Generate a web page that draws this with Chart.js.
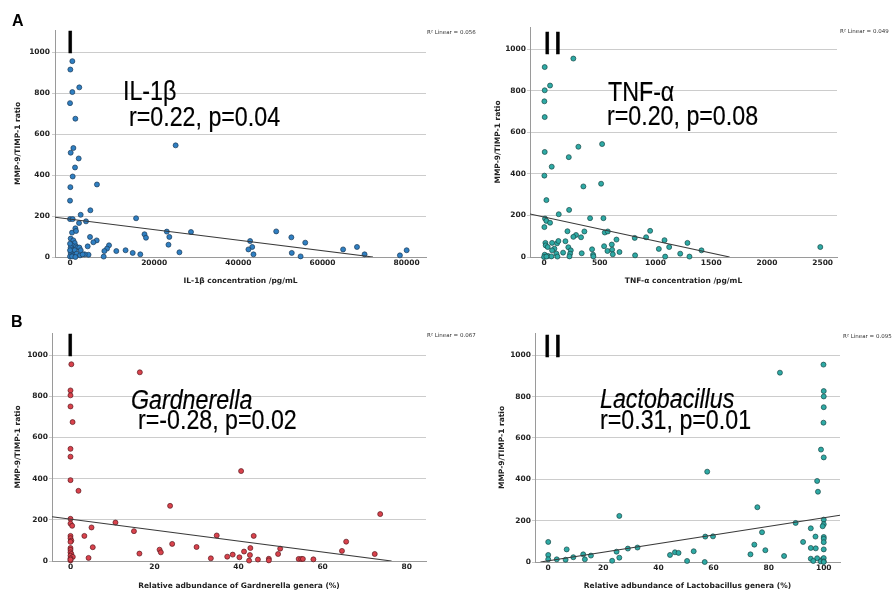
<!DOCTYPE html>
<html>
<head>
<meta charset="utf-8">
<script src="https://cdn.jsdelivr.net/npm/chart.js@4"></script>
<style>
  html, body { margin: 0; padding: 0; background: #fff; overflow: hidden; }
  body { width: 893px; height: 591px; position: relative; }
  canvas { position: absolute; }
  .lbl { position: absolute; font-family: "Liberation Sans", Arial, sans-serif; line-height: 1; white-space: nowrap; color: #000; }
  .big { font-size: 27px; transform: scaleX(0.86); transform-origin: 0 0; -webkit-text-stroke: 0.2px #000; }
  .roman { font-size: 31px; letter-spacing: 2px; -webkit-text-stroke: 0.6px #000; }
  .letter { font-size: 16px; font-weight: bold; }
  .r2 { font-family: "DejaVu Sans", sans-serif; font-size: 5.5px; color: #333; }
</style>
</head>
<body>
<canvas id="il1b" width="440" height="295" style="left:0;top:0"></canvas>
<canvas id="tnf" width="370" height="295" style="left:480px;top:0"></canvas>
<canvas id="gard" width="440" height="295" style="left:0;top:300px"></canvas>
<canvas id="lacto" width="369" height="295" style="left:484px;top:300px"></canvas>

<div class="lbl letter" style="left:12px;top:13px">A</div>
<div class="lbl letter" style="left:11px;top:314px">B</div>
<div class="lbl roman" style="left:66px;top:27px">I</div>
<div class="lbl roman" style="left:543px;top:28px">II</div>
<div class="lbl roman" style="left:66px;top:330px">I</div>
<div class="lbl roman" style="left:543px;top:331px">II</div>

<div class="lbl big" style="left:123px;top:78px">IL-1β</div>
<div class="lbl big" style="left:129px;top:104px">r=0.22, p=0.04</div>
<div class="lbl big" style="left:608px;top:79px">TNF-α</div>
<div class="lbl big" style="left:607px;top:103px">r=0.20, p=0.08</div>
<div class="lbl big" style="left:131px;top:387px;font-style:italic">Gardnerella</div>
<div class="lbl big" style="left:138px;top:407px">r=-0.28, p=0.02</div>
<div class="lbl big" style="left:600px;top:386px;font-style:italic">Lactobacillus</div>
<div class="lbl big" style="left:600px;top:407px">r=0.31, p=0.01</div>

<div class="lbl r2" style="left:427px;top:30px">R² Linear = 0.056</div>
<div class="lbl r2" style="left:840px;top:29px">R² Linear = 0.049</div>
<div class="lbl r2" style="left:427px;top:333px">R² Linear = 0.067</div>
<div class="lbl r2" style="left:843px;top:334px">R² Linear = 0.095</div>

<script>
// MMP-9/TIMP-1 ratio vs IL-1β (pg/mL)
const il1bX = [550, 80, 550, 2200, 0, 1270, 25100, 800, 160, 2060, 1190, 630, 6400, 80, 0, 4830, 2530, 15700, 0, 630,
  3800, 2140, 1270, 475, 1430, 49000, 28750, 23000, 17700, 18050, 23600, 52600, 4750, 6340, 5550, 42800, 55900, 23400, 4200, 9270,
  8800, 8160, 43300, 42400, 64900, 68200, 11000, 13200, 14900, 16700, 26000, 43600, 52700, 70000, 78400, 80000, 54800, 8000, 4400, 3500,
  160, 790, 1110, 475, 1425, 160, 1740, 475, 1110, 160, 790, 1580, 2380, 3010, 0, 475, 1270, 2220, 2540, 0, 0];
const il1bY = [956, 915, 805, 828, 751, 675, 545, 532, 509, 481, 437, 393, 354, 341, 275, 228, 206, 189, 185, 185,
  174, 166, 140, 119, 127, 125, 122, 124, 111, 94, 98, 96, 98, 81, 72, 78, 70, 60, 52, 57,
  41, 29, 49, 37, 37, 49, 29, 33, 20, 13, 23, 13, 20, 13, 8, 33, 3, 2, 11, 13,
  90, 81, 68, 57, 52, 46, 46, 33, 33, 20, 8, 16, 8, 13, 3, 3, 0, 46, 33, 65, 33];

// MMP-9/TIMP-1 ratio vs TNF-α (pg/mL)
const tnfX = [263, 6, 6, 54, 3, 6, 6, 521, 308, 222, 69, 3, 512, 353, 21, 225, 132, 413, 533, 9,
  21, 54, 3, 210, 362, 545, 572, 952, 287, 263, 332, 650, 814, 916, 1081, 1287, 72, 117, 192, 12,
  129, 15, 33, 218, 539, 608, 1123, 1413, 2479, 93, 72, 431, 240, 611, 1030, 569, 677, 171, 234, 338,
  111, 440, 617, 817, 1222, 6, 36, 66, 120, 443, 1087, 1305, 0, 228, 21];
const tnfY = [956, 915, 803, 826, 750, 674, 506, 544, 531, 481, 435, 392, 353, 340, 274, 227, 206, 187, 187, 185,
  174, 165, 144, 124, 123, 118, 123, 126, 106, 97, 95, 84, 92, 95, 81, 68, 68, 66, 76, 68,
  77, 56, 48, 47, 52, 60, 48, 32, 48, 40, 32, 37, 32, 35, 39, 29, 24, 21, 16, 18,
  16, 11, 13, 8, 16, 11, 5, 3, 2, 3, 2, 2, 0, 3, 2];

// MMP-9/TIMP-1 ratio vs Gardnerella relative abundance (%)
const gardX = [0.2, 16.5, 0, 0, 0, 0.5, 0, 0, 40.6, 0, 1.9, 23.7, 73.7, 0, 10.7, 0, 0.4, 5, 15.1, 3.3,
  34.8, 43.6, 0, 0, 0.2, 0, 65.6, 24.2, 5.3, 30, 42.8, 49.9, 0, 0, 21.2, 21.5, 41.3, 64.6, 0, 0.2,
  16.4, 42.7, 38.6, 49.4, 72.4, 37.3, 40.2, 0, 0.55, 4.3, 33.4, 47.2, 54.3, 54.9, 55.3, 44.6, 47.2, 57.8, 42.5, 0,
  0, 0];
const gardY = [956, 917, 829, 805, 751, 675, 545, 507, 437, 393, 341, 268, 228, 205, 187, 182, 171, 163, 145, 122,
  124, 122, 122, 111, 99, 93, 94, 83, 67, 68, 63, 60, 63, 54, 55, 42, 46, 49, 42, 34,
  36, 29, 31, 34, 34, 21, 18, 26, 20, 15, 13, 11, 10, 10, 10, 7, 3, 8, 2, 13,
  3, 7];

// MMP-9/TIMP-1 ratio vs Lactobacillus relative abundance (%)
const lactoX = [99.9, 84.1, 100, 100, 100, 99.9, 99, 100, 57.7, 97.6, 97.9, 75.9, 25.8, 100, 89.8, 100, 99.6, 95.3, 77.6, 57,
  59.8, 97, 100, 100, 100, 0, 92.5, 74.8, 97.1, 95.3, 100, 6.7, 28.9, 32.4, 78.8, 52.8, 24.8, 46, 47.3, 73.4,
  44.2, 0, 12.7, 15.5, 9.1, 25.8, 85.6, 97.6, 95.3, 99.6, 100, 0, 3.1, 6.3, 13.3, 23.2, 50.4, 56.8, 96.2, 98.9,
  100, 100];
const lactoY = [955, 916, 827, 801, 749, 674, 544, 506, 437, 392, 340, 265, 223, 205, 189, 183, 173, 163, 144, 123,
  124, 123, 121, 112, 96, 97, 97, 84, 66, 68, 61, 61, 65, 70, 57, 52, 50, 47, 44, 37,
  34, 34, 37, 31, 23, 21, 29, 18, 16, 13, 19, 13, 13, 11, 13, 6, 5, 0, 5, 3,
  3, 0];

// linear fit lines, read at their two ends
const il1bFitX = [-3600, 72000], il1bFitY = [194, 0];
const tnfFitX = [-126, 1665], tnfFitY = [207, 0];
const gardFitX = [-4.4, 76.4], gardFitY = [215, 0];
const lactoFitX = [-2.8, 105.9], lactoFitY = [0, 226];

const yTicks = [0, 200, 400, 600, 800, 1000];
const il1bTicks = [0, 20000, 40000, 60000, 80000];
const tnfTicks = [0, 500, 1000, 1500, 2000, 2500];
const gardTicks = [0, 20, 40, 60, 80];
const lactoTicks = [0, 20, 40, 60, 80, 100];

const axisFont = {family: 'DejaVu Sans', size: 7.5, weight: 'bold'};
const toPoints = (xs, ys) => xs.map((x, i) => ({x, y: ys[i]}));

function scatterPanel(id, c) {
  new Chart(document.getElementById(id), {
    type: 'scatter',
    data: {
      datasets: [{
        data: toPoints(c.fitX, c.fitY),
        showLine: true,
        borderColor: '#3a3a3a',
        borderWidth: 1.1,
        pointRadius: 0,
      }, {
        data: toPoints(c.xs, c.ys),
        backgroundColor: c.fill,
        borderColor: c.edge,
        borderWidth: 0.7,
        pointRadius: 2.5,
        clip: 6,
      }]
    },
    options: {
      responsive: false,
      animation: false,
      events: [],
      layout: {padding: c.pad},
      plugins: {legend: {display: false}, tooltip: {enabled: false}},
      scales: {
        x: {
          type: 'linear',
          min: c.xMin,
          max: c.xMax,
          grid: {display: false, drawTicks: false},
          border: {color: '#9a9a9a', width: 1},
          ticks: {font: axisFont, color: '#222', padding: 2, autoSkip: false, maxRotation: 0, callback: v => String(v)},
          afterBuildTicks: s => { s.ticks = c.xTicks.map(v => ({value: v})); },
          afterFit: s => { s.height = c.xH; },
          title: {display: true, text: c.xTitle, font: axisFont, color: '#222', padding: {top: 0, bottom: c.xTitlePad}},
        },
        y: {
          min: 0,
          max: 1108,
          grid: {color: '#cccccc', lineWidth: 1, tickLength: 3},
          border: {color: '#9a9a9a', width: 1},
          ticks: {font: axisFont, color: '#222', padding: c.yTickPad, callback: v => String(v)},
          afterBuildTicks: s => { s.ticks = yTicks.map(v => ({value: v})); },
          afterFit: s => { s.width = c.yW; },
          title: {display: true, text: 'MMP-9/TIMP-1 ratio', font: axisFont, color: '#222', padding: {top: 14, bottom: 0}},
        }
      }
    }
  });
}

scatterPanel('il1b', {
  xs: il1bX, ys: il1bY, fitX: il1bFitX, fitY: il1bFitY,
  fill: '#2f7fc2', edge: '#1b3a56',
  xMin: -3570, xMax: 84600, xTicks: il1bTicks, xTitle: 'IL-1β concentration /pg/mL',
  pad: {left: 0, top: 30, right: 14, bottom: 0}, yW: 55, xH: 38, xTitlePad: 9.5, yTickPad: 2,
});

scatterPanel('tnf', {
  xs: tnfX, ys: tnfY, fitX: tnfFitX, fitY: tnfFitY,
  fill: '#2eaaa5', edge: '#194846',
  xMin: -126, xMax: 2629, xTicks: tnfTicks, xTitle: 'TNF-α concentration /pg/mL',
  pad: {left: 0, top: 27, right: 13, bottom: 0}, yW: 50, xH: 38, xTitlePad: 9.5, yTickPad: 1,
});

scatterPanel('gard', {
  xs: gardX, ys: gardY, fitX: gardFitX, fitY: gardFitY,
  fill: '#d9424c', edge: '#5a1a1f',
  xMin: -4.4, xMax: 84.6, xTicks: gardTicks, xTitle: 'Relative adbundance of Gardnerella genera (%)',
  pad: {left: 0, top: 33, right: 14, bottom: 0}, yW: 52, xH: 34, xTitlePad: 4.5, yTickPad: 1,
});

scatterPanel('lacto', {
  xs: lactoX, ys: lactoY, fitX: lactoFitX, fitY: lactoFitY,
  fill: '#2eaaa5', edge: '#194846',
  xMin: -4.8, xMax: 105.9, xTicks: lactoTicks, xTitle: 'Relative adbundance of Lactobacillus genera (%)',
  pad: {left: 0, top: 33, right: 13, bottom: 0}, yW: 51, xH: 33, xTitlePad: 4.5, yTickPad: 1,
});
</script>
</body>
</html>
